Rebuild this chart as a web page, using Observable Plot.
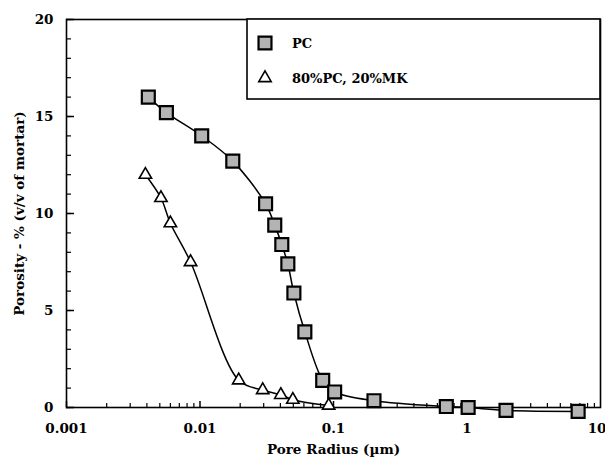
<!DOCTYPE html>
<html>
<head>
<meta charset="utf-8">
<script src="https://cdn.jsdelivr.net/npm/d3@7"></script>
<script src="https://cdn.jsdelivr.net/npm/@observablehq/plot@0.6"></script>
<style>
  body { margin: 0; background: #fff; }
  #chart svg { display: block; }
</style>
</head>
<body>
<div id="chart"></div>
<script>
// PC series (pore radius µm, porosity %)
const pcRadius   = [0.0041, 0.0056, 0.0103, 0.0176, 0.031, 0.0363, 0.041, 0.0455, 0.0505, 0.061, 0.083, 0.102, 0.201, 0.70, 1.02, 1.96, 6.8];
const pcPorosity = [16.0, 15.2, 14.0, 12.7, 10.5, 9.4, 8.4, 7.4, 5.9, 3.9, 1.4, 0.8, 0.35, 0.05, 0.0, -0.15, -0.2];

// 80%PC, 20%MK series
const mkRadius   = [0.0039, 0.0051, 0.0060, 0.0085, 0.0195, 0.0295, 0.0403, 0.0496, 0.092];
const mkPorosity = [12.0, 10.8, 9.5, 7.5, 1.4, 0.9, 0.65, 0.4, 0.1];

const seriesNames = ["PC", "80%PC, 20%MK"];
const xMajorTicks = [0.001, 0.01, 0.1, 1];
const xMajorLabels = ["0.001", "0.01", "0.1", "1"];
const xEndTick = [10];
const xEndLabel = "10";
const yMajorTicks = [0, 5, 10, 15, 20];
const yMinorTicks = d3.range(0, 21, 1);
const xMinorTicks = [0.001, 0.01, 0.1, 1].flatMap(d => [2,3,4,5,6,7,8,9].map(k => +(k * d).toPrecision(3)));

const pc = pcRadius.map((r, i) => ({r, p: pcPorosity[i]}));
const mk = mkRadius.map((r, i) => ({r, p: mkPorosity[i]}));
const xLabelOf = new Map(xMajorTicks.map((t, i) => [t, xMajorLabels[i]]));

const FONT = "'DejaVu Serif', 'Liberation Serif', serif";

const chart = Plot.plot({
  width: 605,
  height: 465,
  marginLeft: 66,
  marginRight: 5,
  marginTop: 19,
  marginBottom: 58,
  style: {fontFamily: FONT, fontSize: "12.5px", fontWeight: "bold", background: "#fff", color: "#000"},
  x: {type: "log", domain: [0.001, 10]},
  y: {domain: [0, 20]},
  marks: [
    Plot.axisY({ticks: yMinorTicks, tickSize: -5, text: null, label: null, strokeWidth: 1.2}),
    Plot.axisY({ticks: yMajorTicks, tickSize: -8, tickPadding: 21, strokeWidth: 1.5, fontSize: 13.5,
                label: "Porosity - % (v/v of mortar)", labelAnchor: "center", labelArrow: "none", labelOffset: 52}),
    Plot.axisX({ticks: xMinorTicks, tickSize: -4, text: null, label: null, strokeWidth: 1.2}),
    Plot.axisX({ticks: xMajorTicks, tickFormat: d => xLabelOf.get(d) ?? String(d), tickSize: -6, tickPadding: 22, strokeWidth: 1.5, fontSize: 13.5,
                label: "Pore Radius (µm)", labelAnchor: "center", labelArrow: "none", labelOffset: 46}),
    Plot.axisX({ticks: xEndTick, tickFormat: () => xEndLabel, tickSize: -6, tickPadding: 22, strokeWidth: 1.5, fontSize: 13.5,
                textAnchor: "end", dx: 6, label: null}),
    Plot.frame({stroke: "#000", strokeWidth: 1.6}),
    Plot.line(pc, {x: "r", y: "p", curve: "catmull-rom", stroke: "#000", strokeWidth: 1.5}),
    Plot.line(mk, {x: "r", y: "p", curve: "catmull-rom", stroke: "#000", strokeWidth: 1.5}),
    Plot.dot(mk, {x: "r", y: "p", symbol: "triangle", r: 4.6, fill: "#fff", stroke: "#000", strokeWidth: 1.6}),
    Plot.dot(pc, {x: "r", y: "p", symbol: "square", r: 7.3, fill: "#b4b4b4", stroke: "#000", strokeWidth: 2.2})
  ]
});

// Legend box in the top-right corner of the frame
const svg = d3.select(chart);
const lg = svg.append("g").attr("font-family", FONT).attr("font-weight", "bold").attr("font-size", 13).attr("text-anchor", "start");
lg.append("rect").attr("x", 247).attr("y", 19).attr("width", 353).attr("height", 80)
  .attr("fill", "#fff").attr("stroke", "#000").attr("stroke-width", 1.6);
lg.append("path").attr("transform", "translate(265,43)")
  .attr("d", d3.symbol(d3.symbolSquare, Math.PI * 7.3 * 7.3)())
  .attr("fill", "#b4b4b4").attr("stroke", "#000").attr("stroke-width", 2.2);
lg.append("path").attr("transform", "translate(265,78)")
  .attr("d", d3.symbol(d3.symbolTriangle, Math.PI * 4.6 * 4.6)())
  .attr("fill", "#fff").attr("stroke", "#000").attr("stroke-width", 1.6);
lg.append("text").attr("x", 292).attr("y", 48).attr("text-anchor", "start").text(seriesNames[0]);
lg.append("text").attr("x", 292).attr("y", 83).attr("text-anchor", "start").text(seriesNames[1]);

document.getElementById("chart").appendChild(chart);
</script>
</body>
</html>
